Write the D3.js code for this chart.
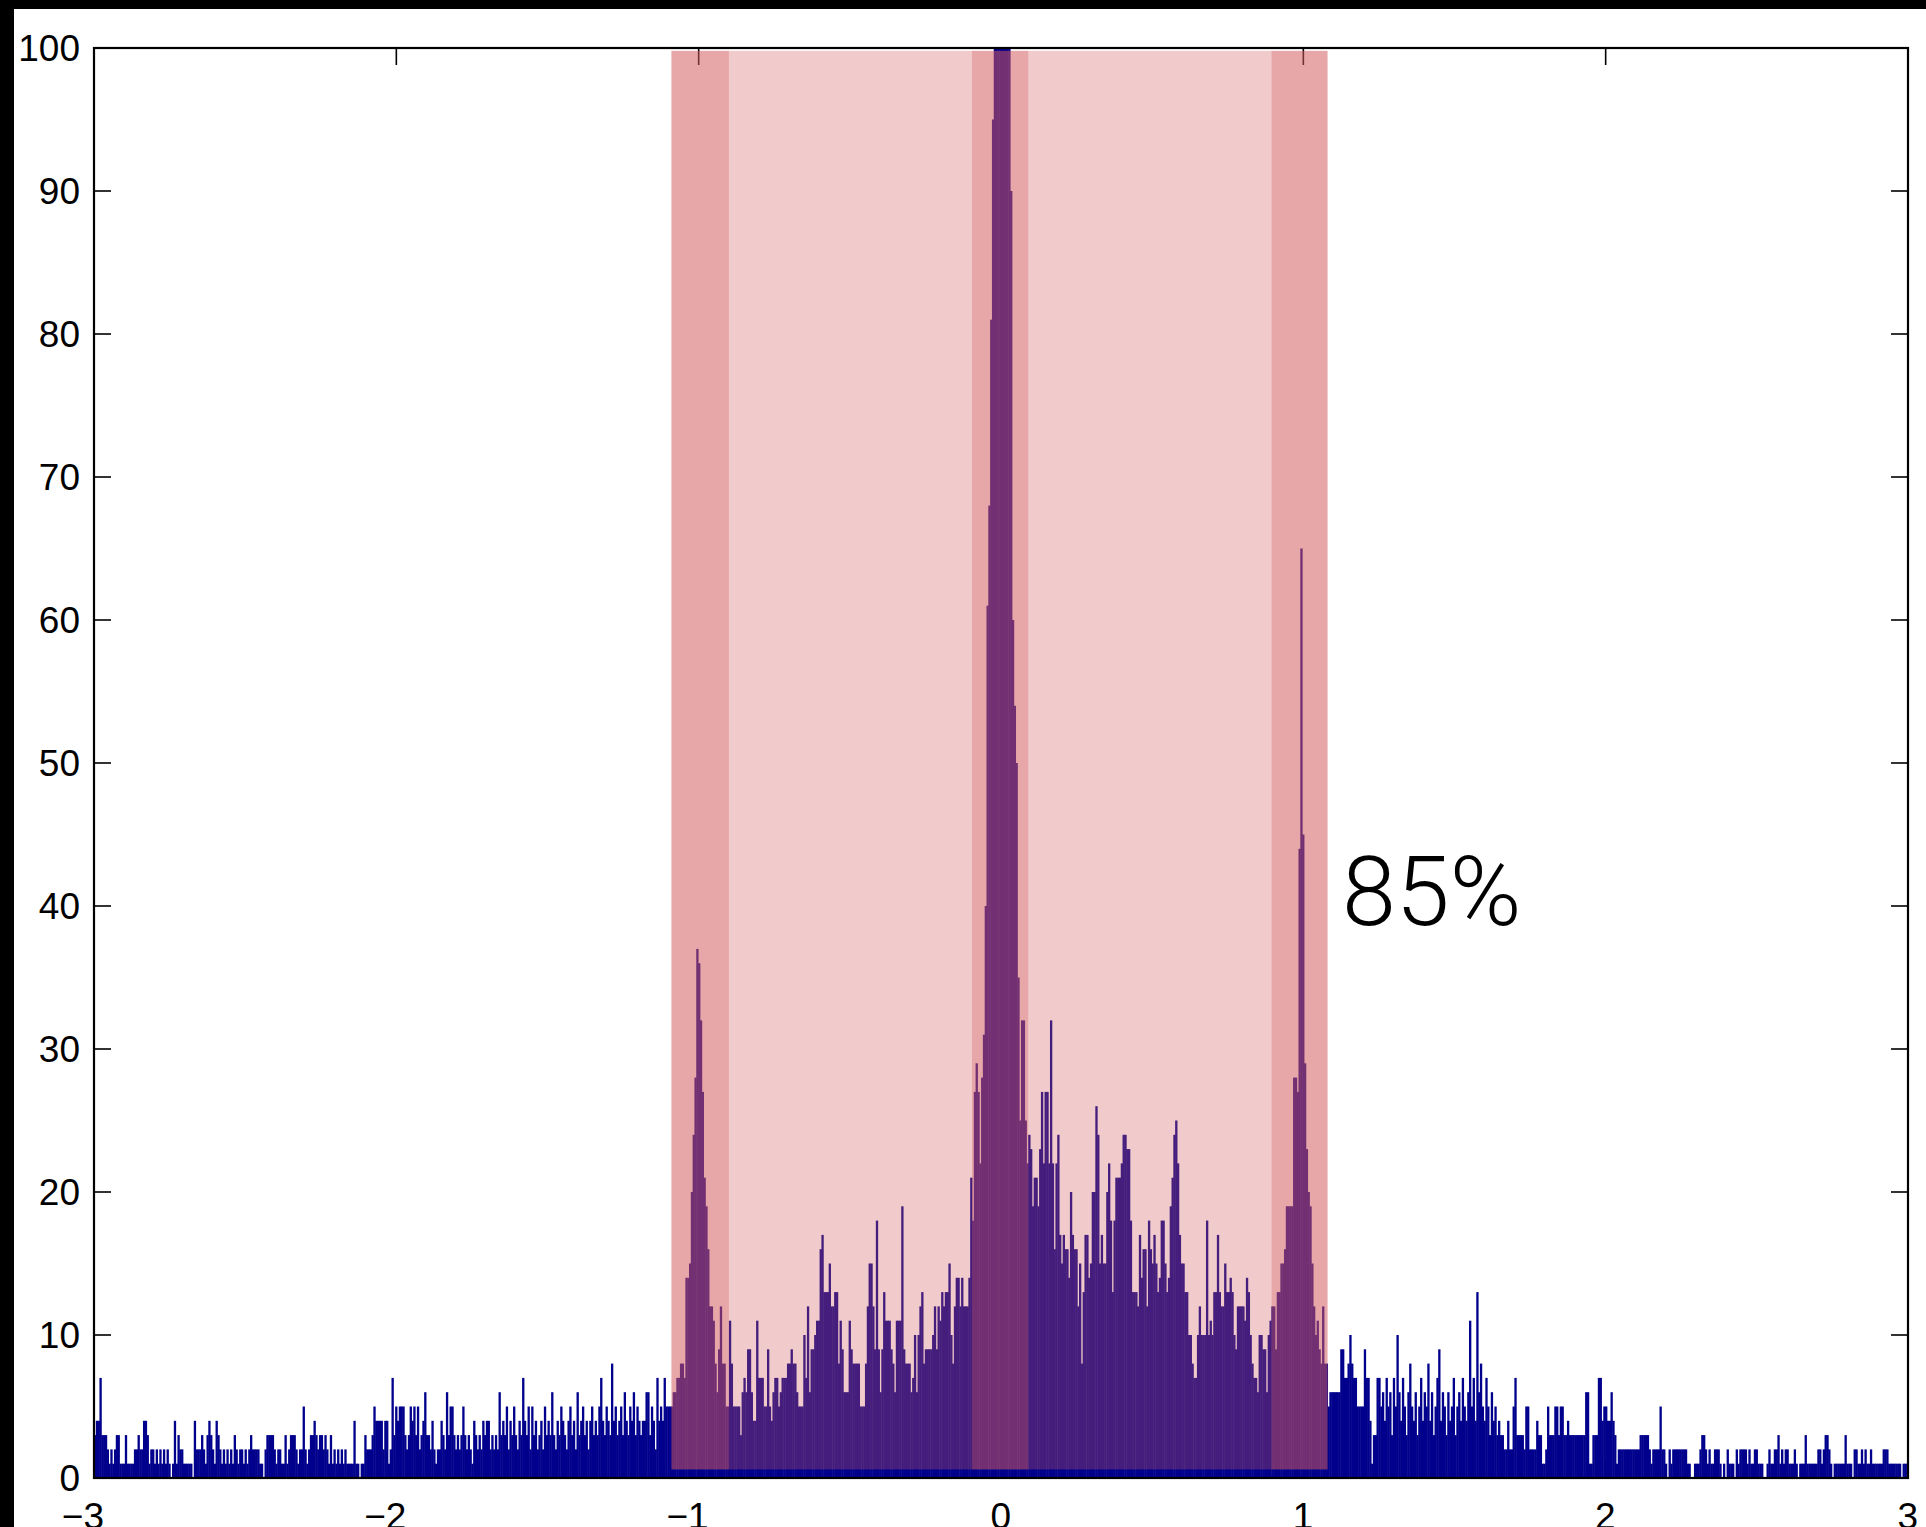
<!DOCTYPE html>
<html><head><meta charset="utf-8">
<script src="https://cdn.jsdelivr.net/npm/d3@7"></script>
<style>html,body{margin:0;padding:0;background:#fff;} svg{display:block}</style>
</head><body>
<svg id="chart" width="1926" height="1527"></svg>
<script>
// ---------- data ----------
const xDomain = [-3, 3];
const yDomain = [0, 100];
const xTicks = [-3, -2, -1, 0, 1, 2, 3];
const xTickLabels = ["\u22123", "\u22122", "\u22121", "0", "1", "2", "3"];
const yTicks = [0, 10, 20, 30, 40, 50, 60, 70, 80, 90, 100];
const yTickLabels = ["0", "10", "20", "30", "40", "50", "60", "70", "80", "90", "100"];

// histogram counts, consecutive equal-width bins from -3 to 3
const countsFarLeft = [
3,4,4,7,3,3,3,2,1,2, 1,2,3,3,1,1,1,3,1,1, 1,1,2,2,3,2,2,4,4,3, 1,2,2,1,2,1,2,1,2,1, 2,1,0,1,4,1,3,2,2,1,
1,1,1,1,0,4,2,2,2,3, 2,1,3,4,3,2,1,4,3,2, 1,2,1,2,1,2,1,3,2,1, 2,2,1,2,1,2,3,2,2,2, 2,1,1,0,2,3,3,3,3,2,
1,2,2,1,1,3,1,2,3,3, 3,2,1,2,2,5,2,1,2,3, 3,4,3,2,3,3,2,3,2,1, 3,1,2,1,2,1,2,1,2,1, 1,1,1,4,1,1,0,1,1,3,
2,2,2,3,5,4,4,4,4,2, 4,4,1,2,7,3,5,4,5,5, 5,3,2,3,5,4,5,3,5,2, 3,4,6,3,3,2,4,2,1,2, 2,4,3,2,6,3,5,5,3,2,
3,2,3,5,3,2,3,2,1,4, 3,2,3,2,4,3,4,4,2,3, 2,3,2,6,3,
4,3,5,2,4,3,5,3,2,4, 3,7,4,3,5,2,5,3,4,2, 3,4,2,5,3,4,3,6,3,2, 4,3,5,4,3,2,4,5,3,4, 2,6,3,4,5,3,4,2,4,5, 3,4,3,5,7,4,3,5,4,3, 8,4,5,3,4,5,3,6,4,3, 5,4,6,3,5,4,
3,4,4,6,6,3,5,4,2,7, 4,5,4,7,5,5,5
];
const countsLeftPeak = [5,6,6,7,7,8,8,7,14,14, 15,20,24,28,37,36,32,27,21,19, 16,12,12,11,8,6,9,12,8,8, 5,5];
const countsLeftMid = [
11,8,5,5,5,5,3,6,7,6, 9,9,6,4,4,11,7,7,7,5, 5,9,5,4,6,7,7,5,6,7, 7,7,8,8,9,8,8,6,5,5,
5,10,7,12,6,9,9,10,11,11, 16,17,13,13,13,15,12,12,13,13, 8,11,9,6,6,6,11,9,8,8, 8,8,5,5,5,8,12,15,15,12,
9,18,9,6,9,13,11,11,11,9, 8,6,11,11,11,19,9,8,8,8, 6,7,10,6,10,12,13,8,9,9, 9,9,10,12,9,12,11,13,12,13,
13,15,10,8,12,14,14,12,14,12, 12,12,14,21
];
// central bins reaching the top are clipped by the y-axis limit
const countsCenter = [18,27,29,27,22,28,31,40,61,68, 81,95,100,100,100,100,100,100,100,100, 100,90,60,54,50,35,25,32,32,25, 22,24];
const countsRightMid = [
23,19,21,21,19,23,27,22,27,27, 22,32,22,16,22,24,17,15,17,16, 16,14,20,17,16,16,12,15,8,13, 17,17,14,15,20,20,26,24,15,17,
15,15,20,22,18,13,18,21,21,21, 22,24,24,23,23,18,13,13,13,12, 17,14,16,16,12,18,16,15,17,15, 13,14,18,18,15,13,14,19,21,24,
25,22,17,15,15,13,13,10,10,8, 7,7,10,12,10,10,10,18,10,11, 10,13,13,17,13,12,12,15,13,13, 14,13,10,9,12,12,12,12,11,14,
13,10,8,7,7,6,10,10,9,9, 6,10,11
];
const countsRightPeak = [12,12,9,13,13,15,15,16,19,19, 19,19,28,28,27,44,65,45,29,23, 20,19,15,12,10,11,9,8,12,8, 8,5];
const countsFarRight = [
6,6,6,6,6,6,9,9,7,7, 8,10,8,7,7,5,5,5,5,9, 7,7,4,1,3,3,7,7,
5,6,4,7,5,6,3,7,5,10, 6,4,7,5,3,6,8,5,4,6, 3,5,7,4,6,5,8,4,6,3, 5,7,9,4,6,5,3,6,4,5, 7,3,5,6,4,7,5,4,6,11, 5,7,4,13,6,8,5,4,7,5, 3,6,4,5,3,4,
3,3,2,2,4,2,2,5,7,3, 3,3,3,2,5,5,2,2,2,2, 4,3,3,1,1,2,5,3,3,3, 5,5,3,5,5,3,3,4,3,3, 3,3,3,3,3,3,3,6,6,1,
1,3,3,3,7,7,4,5,5,4, 4,6,4,3,1,2,2,2,2,2, 2,2,2,2,2,2,2,3,3,3, 3,3,2,1,2,2,2,2,5,2, 2,1,0,2,1,2,2,2,2,2,
2,2,2,1,1,0,0,1,1,1, 2,3,3,2,1,2,1,1,2,2, 2,1,0,1,0,2,1,1,1,0, 2,1,2,2,2,2,1,2,1,1, 2,2,1,1,1,0,0,1,2,1,
1,2,2,3,1,2,1,2,2,1, 1,1,2,1,0,1,1,1,3,1, 1,1,1,1,1,2,2,1,2,3, 3,2,1,0,1,1,1,1,1,1, 3,1,1,1,0,2,2,1,1,2,
1,2,1,1,2,1,1,1,1,1, 1,2,2,2,1,1,1,1,1,1, 1,0,1,1,1
];

// shaded intervals (x) and their vertical extent (y)
const shadeOuter = [-1.09, 1.08];
const shadeBands = [[-1.09, -0.9], [-0.096, 0.09], [0.895, 1.08]];
const shadeY = [0.6, 99.8];
const annotationText = "85%";
const annotationPos = [1.128, 38.7];

// ---------- drawing ----------
const W = 1926, H = 1527;
const plot = {left: 94, right: 1908, top: 48, bottom: 1478};
const svg = d3.select("#chart");

const x = d3.scaleLinear().domain(xDomain).range([plot.left, plot.right]);
const y = d3.scaleLinear().domain(yDomain).range([plot.bottom, plot.top]);

// black frame strips of the screenshot
svg.append("rect").attr("x", 0).attr("y", 0).attr("width", W).attr("height", H).attr("fill", "#fff");
svg.append("rect").attr("x", 0).attr("y", 0).attr("width", 14).attr("height", H).attr("fill", "#000");
svg.append("rect").attr("x", 0).attr("y", 0).attr("width", W).attr("height", 9).attr("fill", "#000");

svg.append("defs").append("clipPath").attr("id", "clip")
  .append("rect").attr("x", plot.left).attr("y", plot.top)
  .attr("width", plot.right - plot.left).attr("height", plot.bottom - plot.top);

// ticks (inward, all four sides)
const tickLen = 17;
const tk = svg.append("g").attr("stroke", "#000").attr("stroke-width", 1.6);
xTicks.forEach(v => {
  tk.append("line").attr("x1", x(v)).attr("x2", x(v)).attr("y1", plot.bottom).attr("y2", plot.bottom - tickLen);
  tk.append("line").attr("x1", x(v)).attr("x2", x(v)).attr("y1", plot.top).attr("y2", plot.top + tickLen);
});
yTicks.forEach(v => {
  tk.append("line").attr("x1", plot.left).attr("x2", plot.left + tickLen).attr("y1", y(v)).attr("y2", y(v));
  tk.append("line").attr("x1", plot.right).attr("x2", plot.right - tickLen).attr("y1", y(v)).attr("y2", y(v));
});

// histogram
const counts = [].concat(countsFarLeft, countsLeftPeak, countsLeftMid, countsCenter,
                         countsRightMid, countsRightPeak, countsFarRight);
const binW = (xDomain[1] - xDomain[0]) / counts.length;
const bins = counts.map((c, i) => ({x0: xDomain[0] + i * binW, x1: xDomain[0] + (i + 1) * binW, c}));

svg.append("g").attr("clip-path", "url(#clip)")
  .selectAll("rect").data(bins.filter(d => d.c > 0)).join("rect")
  .attr("x", d => x(d.x0))
  .attr("width", d => x(d.x1) - x(d.x0) + 0.5)
  .attr("y", d => y(Math.min(d.c, yDomain[1])) - (d.c >= yDomain[1] ? 2 : 0))
  .attr("height", d => y(0) - y(Math.min(d.c, yDomain[1])) + (d.c >= yDomain[1] ? 2 : 0))
  .attr("fill", "#00008c");

// translucent shading on top
const shadeColor = "rgb(210,90,92)", shadeAlpha = 0.32;
const sg = svg.append("g");
sg.append("rect")
  .attr("x", x(shadeOuter[0])).attr("width", x(shadeOuter[1]) - x(shadeOuter[0]))
  .attr("y", y(shadeY[1])).attr("height", y(shadeY[0]) - y(shadeY[1]))
  .attr("fill", shadeColor).attr("fill-opacity", shadeAlpha);
sg.selectAll("rect.band").data(shadeBands).join("rect").attr("class", "band")
  .attr("x", d => x(d[0])).attr("width", d => x(d[1]) - x(d[0]))
  .attr("y", y(shadeY[1])).attr("height", y(shadeY[0]) - y(shadeY[1]))
  .attr("fill", shadeColor).attr("fill-opacity", shadeAlpha);

// axes box
svg.append("rect").attr("x", plot.left).attr("y", plot.top)
  .attr("width", plot.right - plot.left).attr("height", plot.bottom - plot.top)
  .attr("fill", "none").attr("stroke", "#000").attr("stroke-width", 2.2);

// tick labels
const fontFam = "'Liberation Sans', Arial, Helvetica, sans-serif";
svg.append("g").selectAll("text").data(yTicks).join("text")
  .attr("x", plot.left - 14).attr("y", d => y(d)).attr("dy", "0.36em")
  .attr("text-anchor", "end").attr("font-family", fontFam).attr("font-size", 37).attr("fill", "#000")
  .text((d, i) => yTickLabels[i]);
svg.append("g").selectAll("text").data(xTicks).join("text")
  .attr("x", d => x(d) + 10).attr("y", 1529)
  .attr("text-anchor", "end").attr("font-family", fontFam).attr("font-size", 37).attr("fill", "#000")
  .text((d, i) => xTickLabels[i]);

// annotation
svg.append("text").attr("x", x(annotationPos[0])).attr("y", y(annotationPos[1]))
  .attr("font-family", "Roboto, 'Open Sans', sans-serif").attr("font-weight", 300)
  .attr("font-size", 97).attr("fill", "#000").text(annotationText);
</script>
</body></html>
